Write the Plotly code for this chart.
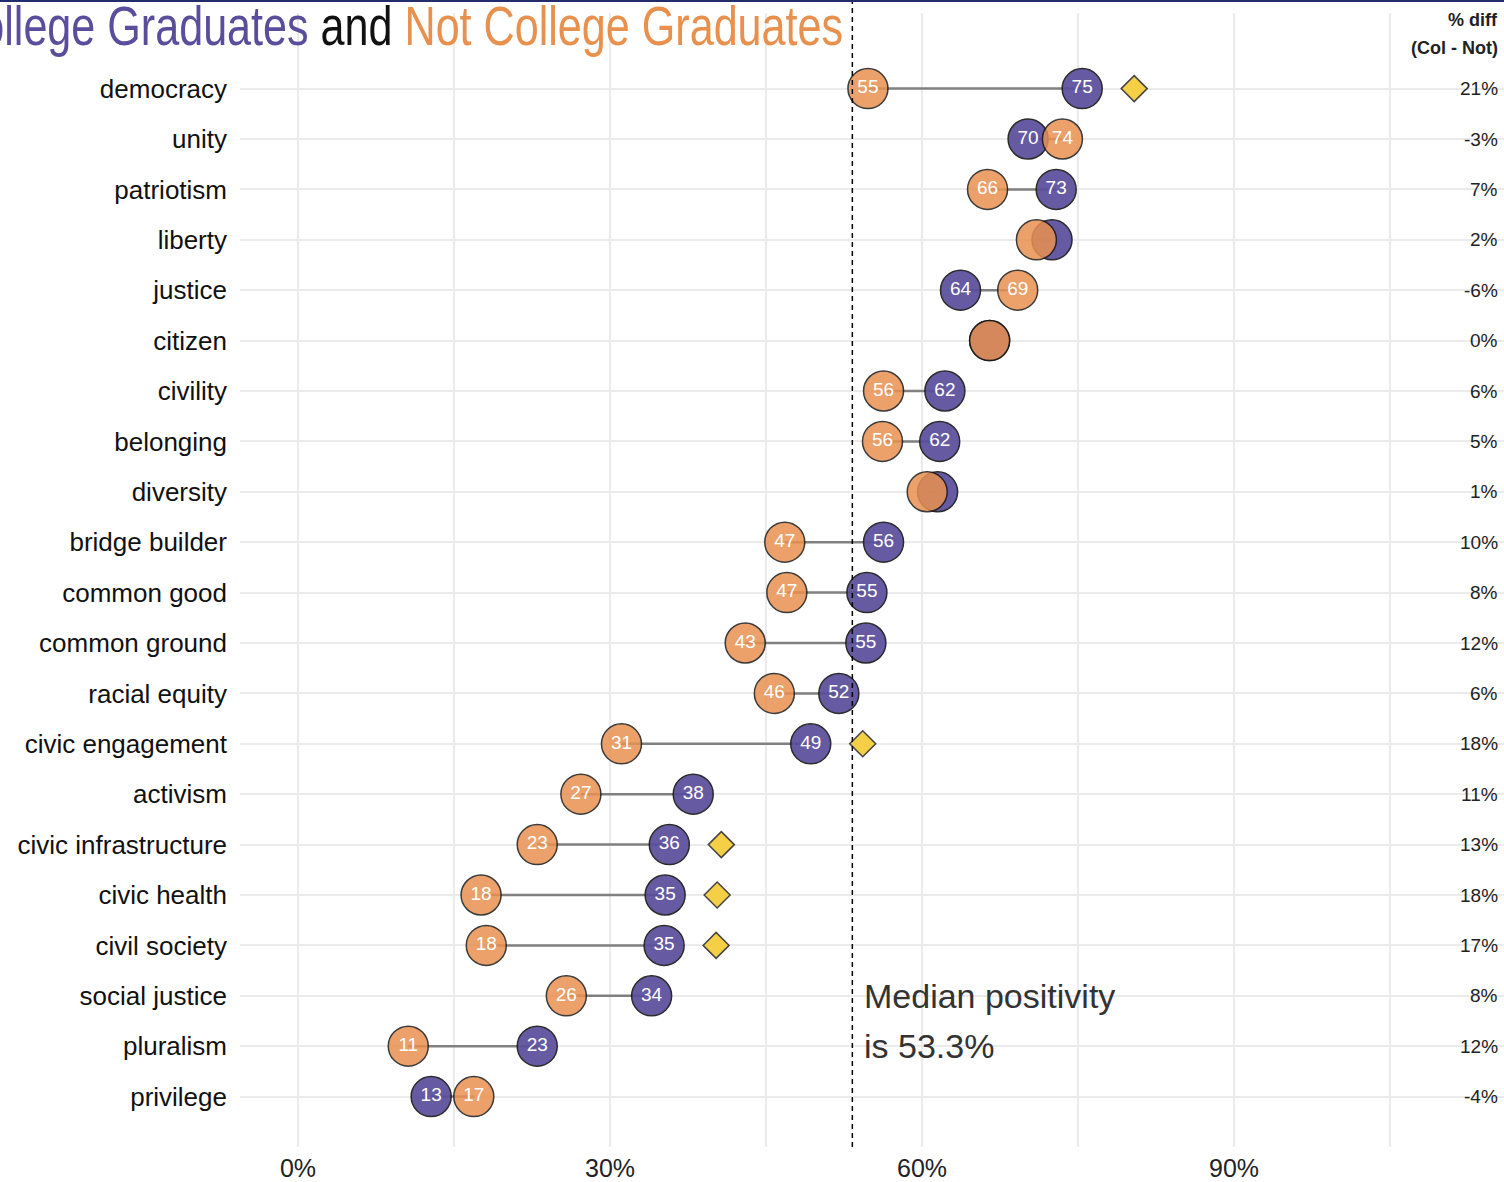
import plotly.graph_objects as go

terms = ["democracy", "unity", "patriotism", "liberty", "justice", "citizen",
         "civility", "belonging", "diversity", "bridge builder", "common good",
         "common ground", "racial equity", "civic engagement", "activism",
         "civic infrastructure", "civic health", "civil society", "social justice",
         "pluralism", "privilege"]
college = [75.4, 70.2, 72.9, 72.5, 63.7, 66.5, 62.2, 61.7, 61.5, 56.3, 54.7,
           54.6, 52.0, 49.3, 38.0, 35.7, 35.3, 35.2, 34.0, 23.0, 12.8]
not_college = [54.8, 73.5, 66.3, 71.0, 69.2, 66.5, 56.3, 56.2, 60.5, 46.8, 47.0,
               43.0, 45.8, 31.1, 27.2, 23.0, 17.6, 18.1, 25.8, 10.6, 16.9]
diff_labels = ["21%", "-3%", "7%", "2%", "-6%", "0%", "6%", "5%", "1%", "10%", "8%",
               "12%", "6%", "18%", "11%", "13%", "18%", "17%", "8%", "12%", "-4%"]
significant = [True, False, False, False, False, False, False, False, False, False, False,
               False, False, True, False, True, True, True, False, False, False]
median_value = 53.3
x_tickvals = [0, 15, 30, 45, 60, 75, 90, 105]
x_ticktext = ["0%", "", "30%", "", "60%", "", "90%", ""]

PURPLE = "#5A4E9C"
ORANGE = "#E8914F"
FONT = "Liberation Sans, Arial, Helvetica, sans-serif"

ys = list(range(len(terms)))

fig = go.Figure()

# connector lines
lx, ly = [], []
for i, (c, n) in enumerate(zip(college, not_college)):
    lx += [c, n, None]
    ly += [i, i, None]
fig.add_trace(go.Scatter(x=lx, y=ly, mode="lines",
                         line=dict(color="#808080", width=2.5),
                         hoverinfo="skip", showlegend=False))

def lab(v, other):
    return str(int(round(v))) if abs(v - other) >= 2.5 else ""

fig.add_trace(go.Scatter(
    x=college, y=ys, mode="markers+text",
    text=[lab(c, n) for c, n in zip(college, not_college)],
    textposition="middle center",
    textfont=dict(color="white", size=19, family=FONT),
    marker=dict(size=40, color=PURPLE, opacity=0.92, line=dict(color="#1a1a1a", width=1.5)),
    showlegend=False, name="College"))

fig.add_trace(go.Scatter(
    x=not_college, y=ys, mode="markers+text",
    text=[lab(n, c) for c, n in zip(college, not_college)],
    textposition="middle center",
    textfont=dict(color="white", size=19, family=FONT),
    marker=dict(size=40, color=ORANGE, opacity=0.85, line=dict(color="#1a1a1a", width=1.5)),
    showlegend=False, name="Not college"))

# significance diamonds
dx = [max(c, n) + 5 for c, n, s in zip(college, not_college, significant) if s]
dy = [i for i, s in zip(ys, significant) if s]
fig.add_trace(go.Scatter(
    x=dx, y=dy, mode="markers",
    marker=dict(symbol="diamond", size=20, color="#F5CF45", line=dict(color="#444444", width=1.5)),
    showlegend=False, hoverinfo="skip"))

# median line
fig.add_shape(type="line", xref="x", yref="paper", x0=median_value, x1=median_value,
              y0=0, y1=1.01, line=dict(color="black", width=1.5, dash="5px,4px"))
fig.add_annotation(x=median_value, y=18, xref="x", yref="y", xanchor="left", xshift=10,
                   text="Median positivity", showarrow=False,
                   font=dict(size=34, color="#333333", family=FONT))
fig.add_annotation(x=median_value, y=19, xref="x", yref="y", xanchor="left", xshift=10,
                   text=f"is {median_value}%", showarrow=False,
                   font=dict(size=34, color="#333333", family=FONT))

# diff column
for i, d in enumerate(diff_labels):
    fig.add_annotation(x=1, y=i, xref="paper", yref="y", xanchor="right", xshift=-4,
                       text=d, showarrow=False, font=dict(size=19, color="#222222", family=FONT))
fig.add_annotation(x=1, y=-1.37, xref="paper", yref="y", xanchor="right", xshift=-4,
                   text="<b>% diff</b>", showarrow=False, font=dict(size=18, color="#222222", family=FONT))
fig.add_annotation(x=1, y=-0.81, xref="paper", yref="y", xanchor="right", xshift=-4,
                   text="<b>(Col - Not)</b>", showarrow=False, font=dict(size=18, color="#222222", family=FONT))

# cropped title
title_html = (f"<span style='color:{PURPLE}'>College Graduates</span>"
              f"<span style='color:#111111'> and </span>"
              f"<span style='color:{ORANGE}'>Not College Graduates</span>")
fig.add_annotation(x=(845 - 240) / 1264, y=(1152 - 26) / 1139, xref="paper", yref="paper",
                   xanchor="right", yanchor="middle", text=title_html, showarrow=False,
                   font=dict(size=56, family="Liberation Sans Narrow, Arial Narrow, " + FONT))

# top navy rule
fig.add_shape(type="line", xref="paper", yref="paper", x0=-0.2, x1=1.0,
              y0=(1152 - 1) / 1139, y1=(1152 - 1) / 1139,
              line=dict(color="#232D6B", width=2))

fig.update_layout(
    width=1504, height=1182,
    margin=dict(l=240, r=0, t=13, b=30),
    plot_bgcolor="white", paper_bgcolor="white",
    font=dict(family=FONT, color="#222222"),
    showlegend=False,
)
fig.update_xaxes(range=[-5.58, 115.96], tickvals=x_tickvals, ticktext=x_ticktext,
                 showgrid=True, gridcolor="#EBEBEB", gridwidth=1.5, zeroline=False,
                 showline=False, ticks="", tickfont=dict(size=25, color="#222222", family=FONT),
                 ticklabelstandoff=4)
fig.update_yaxes(range=[21, -1.5], tickvals=ys, ticktext=terms,
                 showgrid=True, gridcolor="#EBEBEB", gridwidth=1.5, zeroline=False,
                 showline=False, ticks="", tickfont=dict(size=26, color="#111111", family=FONT),
                 ticklabelstandoff=12)

post = """
document.body.style.margin = '0px';
document.body.style.overflow = 'hidden';
var gd = document.getElementById('{plot_id}');
var els = gd.querySelectorAll('.annotation-text');
els.forEach(function(el) {
  if (el.textContent.indexOf('Not College') >= 0) {
    el.style.transformBox = 'fill-box';
    el.style.transformOrigin = 'right center';
    el.style.transform = 'scaleX(0.77)';
  }
});
"""
fig.write_html("out.html", post_script=post, config={"displayModeBar": False})
